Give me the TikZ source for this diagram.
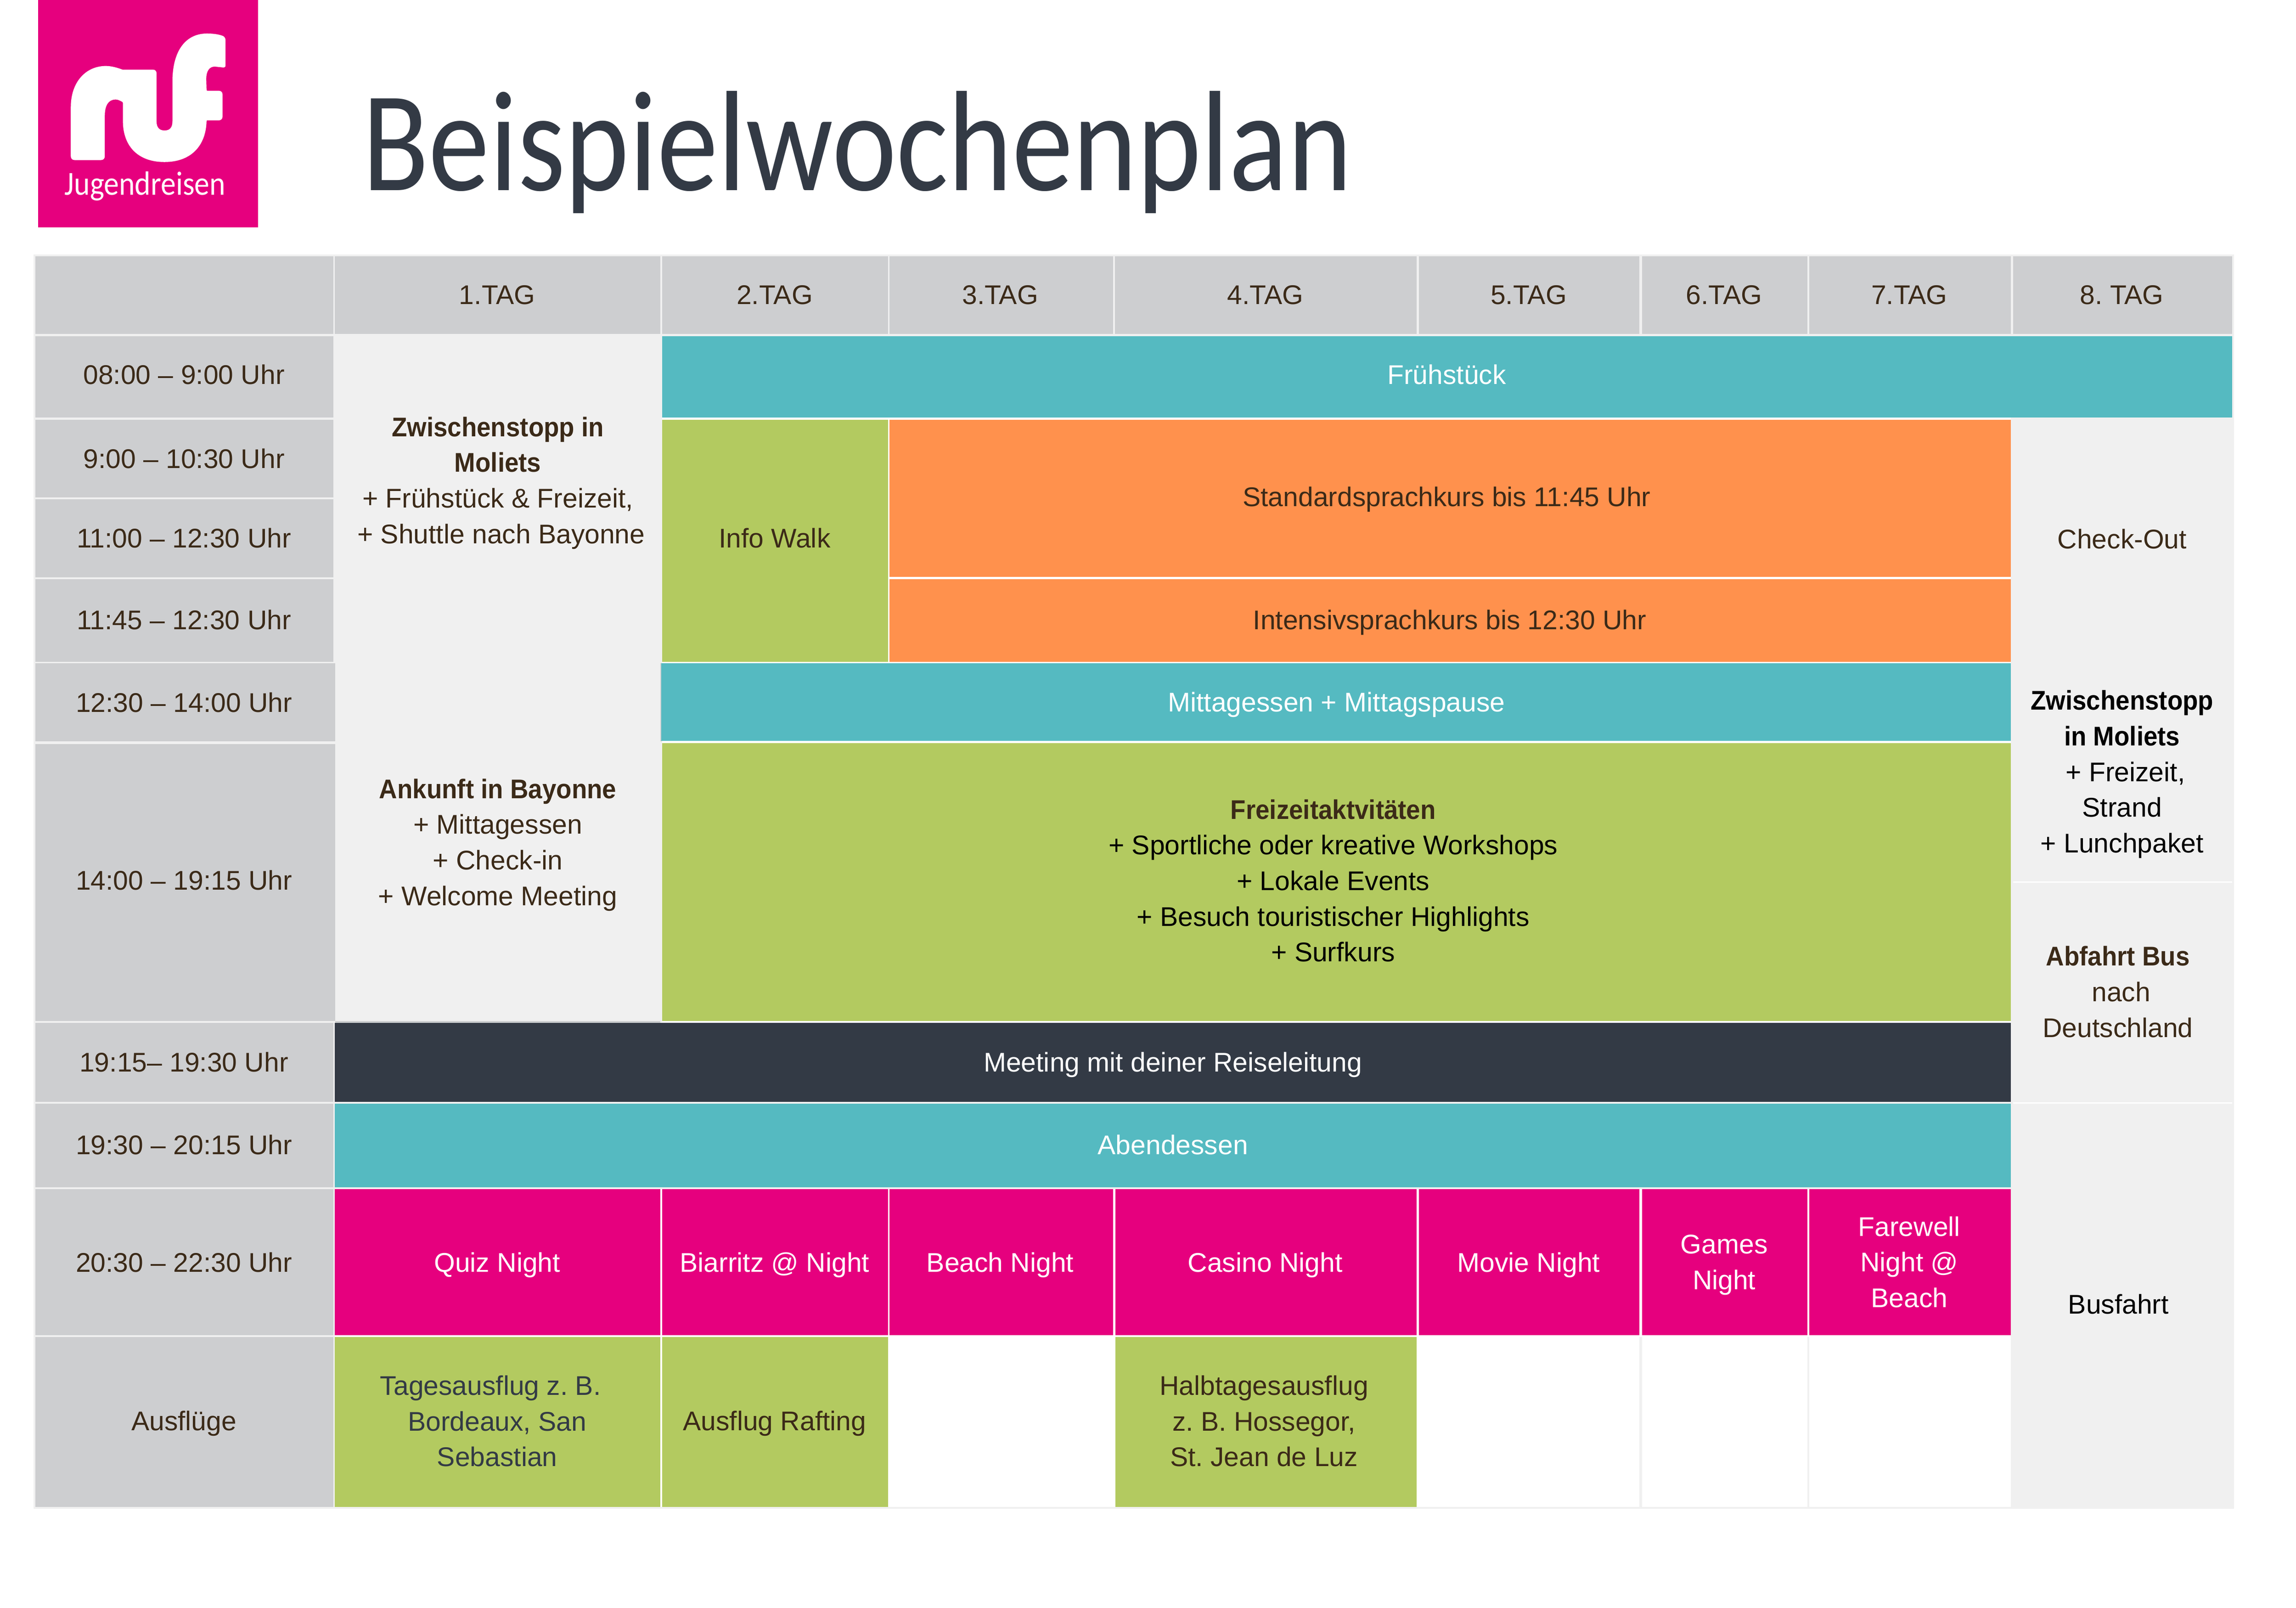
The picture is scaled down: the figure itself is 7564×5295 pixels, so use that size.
\documentclass[tikz,border=0pt]{standalone}
\usepackage{graphicx}
\usepackage{fontspec}
\setmainfont{Liberation Sans}
\newfontfamily\titlefont{Carlito}
\newfontfamily\narrowbold[FakeStretch=0.93]{Liberation Sans}
\newcommand{\bd}[1]{{\narrowbold\bfseries #1}}
\definecolor{cellgray}{HTML}{CDCED0}
\definecolor{lightbg}{HTML}{F0F0F0}
\definecolor{tealband}{HTML}{55BAC1}
\definecolor{leaf}{HTML}{B3CA60}
\definecolor{tangerine}{HTML}{FF914D}
\definecolor{pinkband}{HTML}{E6007E}
\definecolor{slate}{HTML}{333A45}
\definecolor{umber}{HTML}{3B2A18}
\newcommand{\tsp}{\hspace*{2.2pt}}
\tikzset{
  lbl/.style={inner sep=0pt,outer sep=0pt,align=center,
    font=\fontsize{8.9}{11.75}\selectfont\frenchspacing,text=umber,
    execute at begin node=\strut,execute at end node=\strut},
  wlbl/.style={lbl,text=white},
  klbl/.style={lbl,text=black},
  slbl/.style={lbl,text=slate}
}
\begin{document}
\begin{tikzpicture}[x=0.1pt,y=-0.1pt]
\useasboundingbox (0,0) rectangle (7564,5295);
\fill[white] (0,0) rectangle (7564,5295);
% logo
\fill[pinkband] (125,0) rectangle (850,749);
\begin{scope}[xshift=10pt,x=0.04975pt,y=-0.04975pt]
\fill[white] (268,1035) -- (268,710) .. controls (268,540) and (370,437) .. (500,437)
 .. controls (540,437) and (580,450) .. (610,461) -- (812,461)
 .. controls (826,461) and (836,471) .. (836,485) -- (836,805)
 .. controls (836,845) and (855,864) .. (889,864) .. controls (923,864) and (941,845) .. (941,805)
 -- (941,530) .. controls (945,320) and (1040,222) .. (1170,222)
 .. controls (1215,222) and (1250,228) .. (1275,238) .. controls (1287,243) and (1293,255) .. (1293,268)
 -- (1293,432) .. controls (1293,442) and (1288,447) .. (1278,447) -- (1222,441)
 .. controls (1185,441) and (1165,470) .. (1165,525) -- (1167,592) .. controls (1167,598) and (1169,601) .. (1172,601)
 -- (1248,601) .. controls (1263,601) and (1273,611) .. (1273,626) -- (1273,772)
 .. controls (1273,787) and (1263,797) .. (1248,797) -- (1172,797) .. controls (1169,797) and (1167,799) .. (1167,803)
 .. controls (1162,970) and (1060,1073) .. (888,1073) .. controls (720,1073) and (613,975) .. (613,800)
 -- (613,682) .. controls (613,677) and (610,674) .. (604,672) .. controls (590,665) and (580,659) .. (565,659)
 .. controls (515,659) and (493,700) .. (493,770) -- (493,1035)
 .. controls (493,1050) and (483,1060) .. (468,1060) -- (293,1060)
 .. controls (278,1060) and (268,1050) .. (268,1035) -- cycle;
\end{scope}
\node[inner sep=0pt,text=white] (logotext) at (478,613)
  {\resizebox*{53pt}{9.6pt}{\titlefont Jugendreisen}};
% title
\node[inner sep=0pt,anchor=base,text=slate] (title) at (2824,627)
  {\resizebox{326pt}{32.7pt}{\titlefont Beispielwochenplan}};
% table frame
\fill[lightbg] (111,838) rectangle (7360,4970);
% white areas
\fill[white] (2181,1375) rectangle (6625,3369);
\fill[white] (1103,3916) rectangle (6625,4404);
\fill[white] (1103,4404) rectangle (3673,4963);
\fill[white] (3673,4404) rectangle (5401,4963);
\fill[white] (5409,4404) rectangle (5954,4963);
\fill[white] (5961,4404) rectangle (6625,4963);
% header row
\foreach \a/\b in {116/1098,1103/2176,2181/2925,2930/3667,3673/4667,4674/5401,5409/5954,5961/6625,6632/7353}
  \fill[cellgray] (\a,844) rectangle (\b,1100);
% time column
\foreach \a/\b/\c in {1107/1375/1098,1382/1638/1098,1644/1901/1098,1907/2180/1098,2185/2442/1104,2450/3363/1104,3369/3629/1098,3636/3911/1098,3916/4397/1098,4404/4963/1098}
  \fill[cellgray] (116,\a) rectangle (\c,\b);
\fill[cellgray] (1104,3363) rectangle (2176,3369);
% bands
\fill[tealband] (2181,1107) rectangle (7353,1375);
\fill[leaf] (2181,1383) rectangle (2925,2180);
\fill[tangerine] (2930,1383) rectangle (6625,1900);
\fill[tangerine] (2930,1908) rectangle (6625,2180);
\fill[cellgray] (2176,2185) rectangle (2181,2442);
\fill[tealband] (2179,2185) rectangle (6625,2440);
\fill[leaf] (2181,2448) rectangle (6625,3363);
\fill[slate] (1103,3369) rectangle (6625,3629);
\fill[tealband] (1103,3636) rectangle (6625,3911);
\foreach \a/\b in {1103/2176,2181/2925,2930/3667,3674/4667,4674/5401,5409/5954,5961/6625}
  \fill[pinkband] (\a,3916) rectangle (\b,4397);
\foreach \a/\b in {1103/2176,2181/2925,3674/4667}
  \fill[leaf] (\a,4404) rectangle (\b,4963);
% white rules in the last column
\fill[white] (6632,2903) rectangle (7353,2907);
\fill[white] (6632,3630) rectangle (7353,3635);
% header labels
\node[lbl] (h1) at (1638,979) {1.TAG};
\node[lbl] (h2) at (2552,979) {2.TAG};
\node[lbl] (h3) at (3295,979) {3.TAG};
\node[lbl] (h4) at (4168,979) {4.TAG};
\node[lbl] (h5) at (5036,979) {5.TAG};
\node[lbl] (h6) at (5680,979) {6.TAG};
\node[lbl] (h7) at (6290,979) {7.TAG};
\node[lbl] (h8) at (6990,979) {8. TAG};
% time labels
\node[lbl] (t1) at (606,1242) {08:00 – 9:00 Uhr};
\node[lbl] (t2) at (606,1519) {9:00 – 10:30 Uhr};
\node[lbl] (t3) at (606,1780) {11:00 – 12:30 Uhr};
\node[lbl] (t4) at (606,2050) {11:45 – 12:30 Uhr};
\node[lbl] (t5) at (606,2322) {12:30 – 14:00 Uhr};
\node[lbl] (t6) at (606,2908) {14:00 – 19:15 Uhr};
\node[lbl] (t7) at (606,3506) {19:15– 19:30 Uhr};
\node[lbl] (t8) at (606,3779) {19:30 – 20:15 Uhr};
\node[lbl] (t9) at (606,4166) {20:30 – 22:30 Uhr};
\node[lbl] (t10) at (606,4688) {Ausflüge};
% day 1
\node[lbl] (d1a) at (1640,1599) {\bd{Zwischenstopp in}\\\bd{Moliets}\tsp\\+ Frühstück \& Freizeit,\\\tsp+ Shuttle nach Bayonne};
\node[lbl] (d1b) at (1640,2791) {\bd{Ankunft in Bayonne}\\+ Mittagessen\\+ Check-in\\+ Welcome Meeting};
% bands labels
\node[wlbl] (fr) at (4766,1242) {Frühstück};
\node[lbl] (info) at (2552,1780) {Info Walk};
\node[lbl] (std) at (4766,1644) {Standardsprachkurs bis 11:45 Uhr};
\node[lbl] (int) at (4776,2050) {Intensivsprachkurs bis 12:30 Uhr};
\node[wlbl] (mit) at (4403,2321) {Mittagessen + Mittagspause};
\node[klbl] (fz) at (4392,2918) {\textcolor{umber}{\bd{Freizeitaktvitäten}}\\+ Sportliche oder kreative Workshops\\+ Lokale Events\\+ Besuch touristischer Highlights\\+ Surfkurs};
\node[wlbl] (meet) at (3864,3506) {Meeting mit deiner Reiseleitung};
\node[wlbl] (abend) at (3864,3779) {Abendessen};
% evening
\node[wlbl] (e1) at (1638,4166) {Quiz Night};
\node[wlbl] (e2) at (2552,4166) {Biarritz @ Night};
\node[wlbl] (e3) at (3295,4166) {Beach Night};
\node[wlbl] (e4) at (4168,4166) {Casino Night};
\node[wlbl] (e5) at (5036,4166) {Movie Night};
\node[wlbl] (e6) at (5680,4175) {Games\\Night};
\node[wlbl] (e7) at (6290,4174) {Farewell\\Night @\\Beach};
% excursions
\node[slbl] (a1) at (1638,4698) {Tagesausflug z. B.\tsp\tsp\\Bordeaux, San\\Sebastian};
\node[lbl] (a2) at (2552,4688) {Ausflug Rafting};
\node[lbl] (a4) at (4164,4698) {Halbtagesausflug\\z. B. Hossegor,\\St. Jean de Luz};
% last column
\node[lbl] (co) at (6991,1784) {Check-Out};
\node[klbl] (zm) at (6991,2559) {\bd{Zwischenstopp}\\\bd{in Moliets}\tsp\\\tsp+ Freizeit,\\Strand\\+ Lunchpaket};
\node[lbl] (ab) at (6988,3284) {\bd{Abfahrt Bus}\tsp\\nach\\Deutschland\tsp};
\node[klbl] (bus) at (6979,4304) {Busfahrt};
\end{tikzpicture}
\end{document}
